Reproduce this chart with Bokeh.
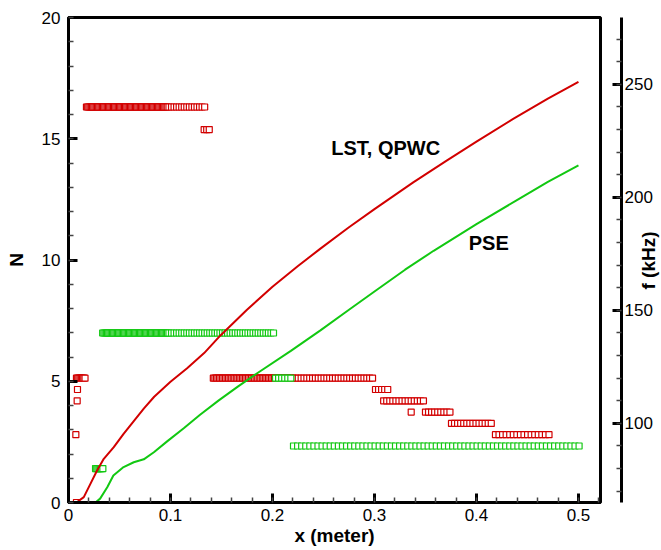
import math
import numpy as np
from bokeh.plotting import figure
from bokeh.models import Range1d, LinearAxis, SingleIntervalTicker, Label
from bokeh.embed import file_html
from bokeh.resources import INLINE

# ---------------- data ----------------
# N-factor curves (left axis)
x_lst = [0.0078, 0.015, 0.0216, 0.028, 0.0346, 0.0444, 0.054, 0.064, 0.074, 0.084,
         0.100, 0.1163, 0.133, 0.149, 0.175, 0.200, 0.225, 0.247, 0.275, 0.300,
         0.338, 0.370, 0.400, 0.436, 0.470, 0.500]
n_lst = [0.0, 0.22, 0.78, 1.32, 1.80, 2.28, 2.83, 3.36, 3.88, 4.36,
         4.98, 5.54, 6.16, 6.89, 7.95, 8.90, 9.75, 10.47, 11.35, 12.10,
         13.20, 14.08, 14.88, 15.82, 16.65, 17.35]

x_pse = [0.0265, 0.031, 0.038, 0.044, 0.054, 0.064, 0.0738, 0.0837, 0.0967, 0.113,
         0.129, 0.147, 0.166, 0.185, 0.218, 0.247, 0.275, 0.300, 0.330, 0.358,
         0.400, 0.443, 0.470, 0.500]
n_pse = [0.0, 0.16, 0.63, 1.11, 1.46, 1.66, 1.78, 2.07, 2.52, 3.06,
         3.62, 4.20, 4.78, 5.33, 6.25, 7.10, 7.95, 8.70, 9.60, 10.38,
         11.48, 12.55, 13.22, 13.90]

# most-amplified frequency (right axis), runs of computational stations:
# frequency (kHz), first station x, last station x, station spacing
lst_f = [240, 240, 230, 120, 115, 110, 95, 65, 120, 120, 115, 110, 105, 105, 100, 95]
lst_x0 = [0.0176, 0.0985, 0.133, 0.0078, 0.0088, 0.0085, 0.0072, 0.0078, 0.142, 0.2225,
          0.301, 0.309, 0.336, 0.350, 0.3755, 0.4186]
lst_x1 = [0.097, 0.133, 0.139, 0.0167, 0.0088, 0.0085, 0.0072, 0.0078, 0.220, 0.298,
          0.312, 0.348, 0.336, 0.373, 0.4157, 0.4716]
lst_dx = [0.0012, 0.0025, 0.0025, 0.0012, 0.003, 0.003, 0.003, 0.003, 0.0015, 0.0028,
          0.003, 0.003, 0.003, 0.003, 0.003, 0.0035]

pse_f = [140, 140, 80, 120, 90]
pse_x0 = [0.0335, 0.0985, 0.0265, 0.203, 0.2206]
pse_x1 = [0.097, 0.202, 0.0333, 0.219, 0.502]
pse_dx = [0.0012, 0.0025, 0.0012, 0.003, 0.004]

x_label = "x (meter)"
n_label = "N"
f_label = "f (kHz)"

RED = "#d20000"
GREEN = "#12c812"
FONT = "Liberation Sans"


def stations(fs, x0s, x1s, dxs):
    xs, ys = [], []
    for f, a, b, d in zip(fs, x0s, x1s, dxs):
        pts = np.arange(a, b + d * 0.5, d) if b > a else np.array([a])
        xs.extend(pts.tolist())
        ys.extend([f] * len(pts))
    return xs, ys


lx, lf = stations(lst_f, lst_x0, lst_x1, lst_dx)
gx, gf = stations(pse_f, pse_x0, pse_x1, pse_dx)

XMAX = 0.5216
p = figure(width=661, height=550, output_backend="svg", toolbar_location=None,
           x_range=Range1d(0, XMAX), y_range=Range1d(0, 20),
           min_border_left=68, min_border_right=61, min_border_top=17, min_border_bottom=48,
           x_axis_location=None, y_axis_location=None)
p.extra_y_ranges = {"f": Range1d(65, 279.6)}
p.grid.visible = False
p.outline_line_color = "black"
p.outline_line_width = 3
p.background_fill_color = "white"
p.border_fill_color = "white"


def style(ax, interval):
    ax.ticker = SingleIntervalTicker(interval=interval, num_minor_ticks=5)
    ax.axis_line_width = 3
    ax.axis_line_color = "black"
    ax.major_tick_in = 9
    ax.major_tick_out = 0
    ax.major_tick_line_width = 3
    ax.major_tick_line_color = "black"
    ax.minor_tick_in = 5
    ax.minor_tick_out = 0
    ax.minor_tick_line_width = 1.5
    ax.minor_tick_line_color = "#444444"
    ax.major_label_text_font = FONT
    ax.major_label_text_font_size = "17px"
    ax.major_label_text_color = "black"
    ax.axis_label_text_font = FONT
    ax.axis_label_text_font_size = "19px"
    ax.axis_label_text_font_style = "bold"
    ax.axis_label_text_color = "black"


xa = LinearAxis(axis_label=x_label)
style(xa, 0.1)
xa.major_label_standoff = 6
xa.axis_label_standoff = 1
p.add_layout(xa, "below")

ya = LinearAxis(axis_label=n_label)
style(ya, 5)
ya.major_label_standoff = 8
ya.axis_label_standoff = 12
p.add_layout(ya, "left")

# right-axis title, reading bottom to top as in the reference
# (placed in the right side panel, next to the frame)
p.add_layout(Label(x=48, y=242, x_units="screen", y_units="screen", text=f_label,
                   angle=math.pi / 2, text_align="center", text_baseline="middle",
                   text_font=FONT, text_font_size="19px", text_font_style="bold",
                   text_color="black"), "right")

fa = LinearAxis(y_range_name="f")
style(fa, 50)
fa.major_label_standoff = 3
p.add_layout(fa, "right")

# frequency markers
p.scatter(lx, lf, y_range_name="f", marker="square", size=6, line_width=1.2,
          line_color=RED, fill_color="white")
p.scatter(gx, gf, y_range_name="f", marker="square", size=6, line_width=1.2,
          line_color=GREEN, fill_color="white")

# N curves
p.line(x_lst, n_lst, line_color=RED, line_width=2)
p.line(x_pse, n_pse, line_color=GREEN, line_width=2)

p.add_layout(Label(x=0.311, y=14.6, text="LST, QPWC", text_align="center", text_baseline="middle",
                   text_font=FONT, text_font_size="20px", text_font_style="bold",
                   text_color="black"))
p.add_layout(Label(x=0.412, y=10.7, text="PSE", text_align="center", text_baseline="middle",
                   text_font=FONT, text_font_size="20px", text_font_style="bold",
                   text_color="black"))

open("out.html", "w").write(file_html(p, INLINE))
